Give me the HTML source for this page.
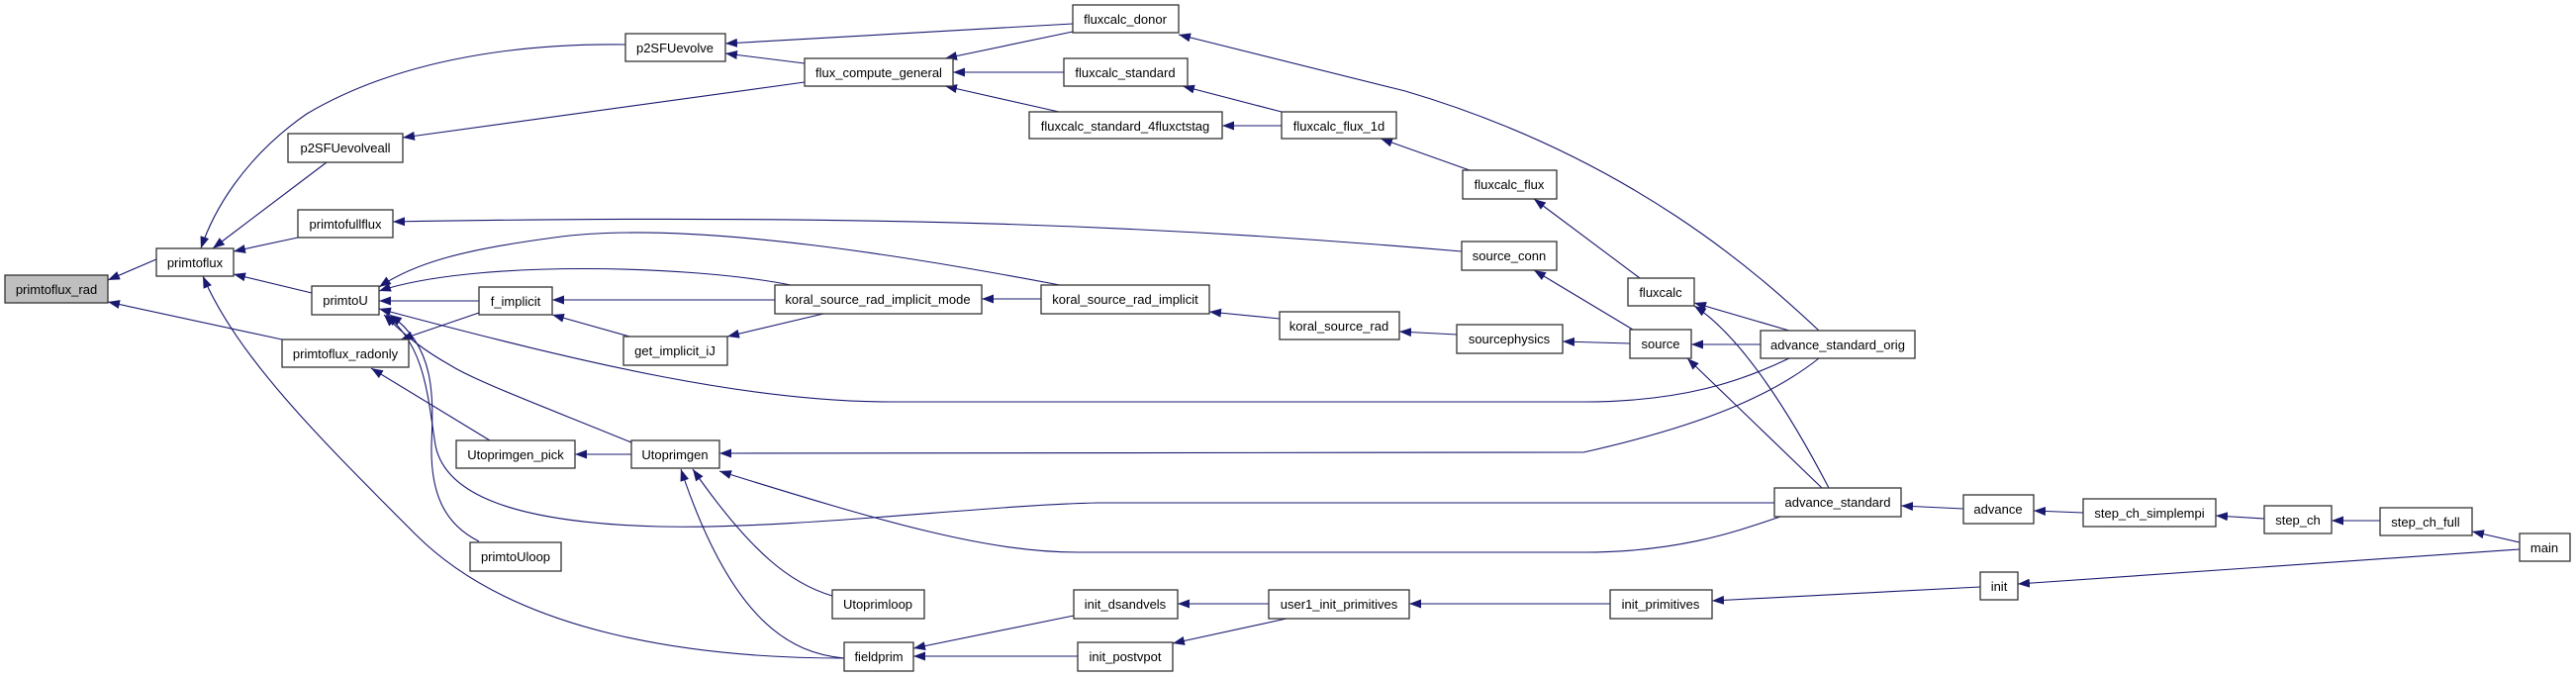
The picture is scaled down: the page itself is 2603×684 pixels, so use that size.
<!DOCTYPE html>
<html><head><meta charset="utf-8"><style>
html,body{margin:0;padding:0;background:#fff;}
svg{display:block;}
text{font-family:"Liberation Sans",sans-serif;font-size:13px;fill:#000;}
.b{fill:#fff;stroke:#333;stroke-width:1.3;}
.e{fill:none;stroke:#191970;stroke-width:1.1;marker-end:url(#a);}
</style></head><body>
<svg width="2603" height="684" viewBox="0 0 2603 684" xmlns="http://www.w3.org/2000/svg">
<defs><marker id="a" viewBox="0 0 12 9" refX="12" refY="4.5" markerWidth="12" markerHeight="9" markerUnits="userSpaceOnUse" orient="auto"><path d="M0,0 L12,4.5 L0,9 z" fill="#191970"/></marker></defs>
<g>
<path class="e" d="M158,262 L109,283"/>
<path class="e" d="M285,343 L109,305"/>
<path class="e" d="M632,45 C560,44 420,50 310,115 C245,160 215,215 203,251"/>
<path class="e" d="M330,164 L215,251"/>
<path class="e" d="M301,240 L236,254"/>
<path class="e" d="M315,296 L236,277"/>
<path class="e" d="M853,665 C700,665 520,640 420,540 C320,440 240,360 205,279"/>
<path class="e" d="M1084,24 L733,44"/>
<path class="e" d="M813,64 L733,54"/>
<path class="e" d="M813,83 L407,139"/>
<path class="e" d="M1084,32 L955,59"/>
<path class="e" d="M1075,73 L963,73"/>
<path class="e" d="M1070,113 L955,87"/>
<path class="e" d="M1295,113 L1195,87"/>
<path class="e" d="M1295,127 L1235,127"/>
<path class="e" d="M1485,172 L1395,140"/>
<path class="e" d="M1657,281 L1550,201"/>
<path class="e" d="M1477,254 C1200,230 900,215 397,224"/>
<path class="e" d="M1650,333 L1550,273"/>
<path class="e" d="M1071,288 C950,265 700,220 560,240 C470,252 420,265 383,290"/>
<path class="e" d="M799,288 C700,268 480,262 383,294"/>
<path class="e" d="M484,304 L383,304"/>
<path class="e" d="M783,303 L558,303"/>
<path class="e" d="M636,340 L558,318"/>
<path class="e" d="M832,317 L735,340"/>
<path class="e" d="M1052,302 L992,302"/>
<path class="e" d="M1293,322 L1222,315"/>
<path class="e" d="M1472,338 L1414,335"/>
<path class="e" d="M1647,347 L1579,345"/>
<path class="e" d="M1808,362 C1760,385 1700,406 1600,406 L900,406 C760,406 600,370 383,312"/>
<path class="e" d="M1838,362 C1790,400 1720,430 1600,457 L727,458"/>
<path class="e" d="M1838,334 C1780,280 1650,160 1420,92 L1191,35"/>
<path class="e" d="M1808,334 L1712,306"/>
<path class="e" d="M1779,348 L1709,348"/>
<path class="e" d="M1848,493 C1810,420 1760,340 1712,309"/>
<path class="e" d="M1841,493 L1705,362"/>
<path class="e" d="M1793,508 L1110,508 C1000,510 800,535 666,532 C520,528 450,500 440,450 C432,400 430,350 390,318"/>
<path class="e" d="M1799,522 C1760,535 1700,558 1600,558 L1090,558 C1000,558 900,530 727,476"/>
<path class="e" d="M638,447 C560,415 480,385 455,369 C430,355 410,340 388,318"/>
<path class="e" d="M495,445 L375,372"/>
<path class="e" d="M484,316 L405,343"/>
<path class="e" d="M841,602 C800,590 760,560 700,474"/>
<path class="e" d="M853,665 C800,660 740,630 688,474"/>
<path class="e" d="M484,547 C450,530 435,500 436,450 C438,400 440,350 394,318"/>
<path class="e" d="M638,459 L581,459"/>
<path class="e" d="M1085,622 L923,655"/>
<path class="e" d="M1089,663 L923,663"/>
<path class="e" d="M1282,610 L1190,610"/>
<path class="e" d="M1300,625 L1185,650"/>
<path class="e" d="M1627,610 L1424,610"/>
<path class="e" d="M2001,593 L1730,607"/>
<path class="e" d="M2546,555 L2039,590"/>
<path class="e" d="M2546,548 L2498,537"/>
<path class="e" d="M2405,526 L2356,526"/>
<path class="e" d="M2288,524 L2239,521"/>
<path class="e" d="M2105,518 L2055,516"/>
<path class="e" d="M1984,514 L1921,511"/>
</g>
<g>
<rect x="5" y="278" width="104" height="28" style="fill:#bfbfbf;stroke:#333;stroke-width:1.3"/><text x="57" y="297" text-anchor="middle">primtoflux_rad</text>
<rect class="b" x="158" y="251" width="78" height="28"/><text x="197" y="270" text-anchor="middle">primtoflux</text>
<rect class="b" x="632" y="34" width="101" height="28"/><text x="682" y="53" text-anchor="middle">p2SFUevolve</text>
<rect class="b" x="291" y="135" width="116" height="29"/><text x="349" y="154" text-anchor="middle">p2SFUevolveall</text>
<rect class="b" x="301" y="212" width="96" height="28"/><text x="349" y="231" text-anchor="middle">primtofullflux</text>
<rect class="b" x="315" y="289" width="68" height="29"/><text x="349" y="308" text-anchor="middle">primtoU</text>
<rect class="b" x="285" y="343" width="128" height="28"/><text x="349" y="362" text-anchor="middle">primtoflux_radonly</text>
<rect class="b" x="484" y="290" width="74" height="28"/><text x="521" y="309" text-anchor="middle">f_implicit</text>
<rect class="b" x="630" y="340" width="105" height="29"/><text x="682" y="359" text-anchor="middle">get_implicit_iJ</text>
<rect class="b" x="461" y="445" width="120" height="28"/><text x="521" y="464" text-anchor="middle">Utoprimgen_pick</text>
<rect class="b" x="638" y="445" width="89" height="28"/><text x="682" y="464" text-anchor="middle">Utoprimgen</text>
<rect class="b" x="475" y="548" width="92" height="29"/><text x="521" y="567" text-anchor="middle">primtoUloop</text>
<rect class="b" x="841" y="596" width="93" height="29"/><text x="887" y="615" text-anchor="middle">Utoprimloop</text>
<rect class="b" x="853" y="649" width="70" height="29"/><text x="888" y="668" text-anchor="middle">fieldprim</text>
<rect class="b" x="813" y="59" width="150" height="28"/><text x="888" y="78" text-anchor="middle">flux_compute_general</text>
<rect class="b" x="783" y="288" width="209" height="29"/><text x="887" y="307" text-anchor="middle">koral_source_rad_implicit_mode</text>
<rect class="b" x="1084" y="5" width="107" height="28"/><text x="1137" y="24" text-anchor="middle">fluxcalc_donor</text>
<rect class="b" x="1075" y="59" width="125" height="28"/><text x="1137" y="78" text-anchor="middle">fluxcalc_standard</text>
<rect class="b" x="1040" y="113" width="195" height="27"/><text x="1137" y="132" text-anchor="middle">fluxcalc_standard_4fluxctstag</text>
<rect class="b" x="1295" y="113" width="116" height="27"/><text x="1353" y="132" text-anchor="middle">fluxcalc_flux_1d</text>
<rect class="b" x="1478" y="172" width="95" height="29"/><text x="1525" y="191" text-anchor="middle">fluxcalc_flux</text>
<rect class="b" x="1477" y="244" width="96" height="29"/><text x="1525" y="263" text-anchor="middle">source_conn</text>
<rect class="b" x="1052" y="288" width="170" height="29"/><text x="1137" y="307" text-anchor="middle">koral_source_rad_implicit</text>
<rect class="b" x="1293" y="315" width="121" height="28"/><text x="1353" y="334" text-anchor="middle">koral_source_rad</text>
<rect class="b" x="1472" y="328" width="107" height="29"/><text x="1525" y="347" text-anchor="middle">sourcephysics</text>
<rect class="b" x="1645" y="281" width="67" height="28"/><text x="1678" y="300" text-anchor="middle">fluxcalc</text>
<rect class="b" x="1647" y="333" width="62" height="29"/><text x="1678" y="352" text-anchor="middle">source</text>
<rect class="b" x="1085" y="596" width="105" height="29"/><text x="1137" y="615" text-anchor="middle">init_dsandvels</text>
<rect class="b" x="1089" y="649" width="96" height="29"/><text x="1137" y="668" text-anchor="middle">init_postvpot</text>
<rect class="b" x="1282" y="596" width="142" height="29"/><text x="1353" y="615" text-anchor="middle">user1_init_primitives</text>
<rect class="b" x="1627" y="596" width="103" height="29"/><text x="1678" y="615" text-anchor="middle">init_primitives</text>
<rect class="b" x="1779" y="334" width="156" height="28"/><text x="1857" y="353" text-anchor="middle">advance_standard_orig</text>
<rect class="b" x="1793" y="493" width="128" height="29"/><text x="1857" y="512" text-anchor="middle">advance_standard</text>
<rect class="b" x="1984" y="500" width="71" height="29"/><text x="2019" y="519" text-anchor="middle">advance</text>
<rect class="b" x="2105" y="504" width="134" height="28"/><text x="2172" y="523" text-anchor="middle">step_ch_simplempi</text>
<rect class="b" x="2288" y="511" width="68" height="28"/><text x="2322" y="530" text-anchor="middle">step_ch</text>
<rect class="b" x="2405" y="513" width="93" height="28"/><text x="2451" y="532" text-anchor="middle">step_ch_full</text>
<rect class="b" x="2546" y="539" width="51" height="28"/><text x="2571" y="558" text-anchor="middle">main</text>
<rect class="b" x="2001" y="578" width="38" height="28"/><text x="2020" y="597" text-anchor="middle">init</text>
</g>
</svg>
</body></html>
